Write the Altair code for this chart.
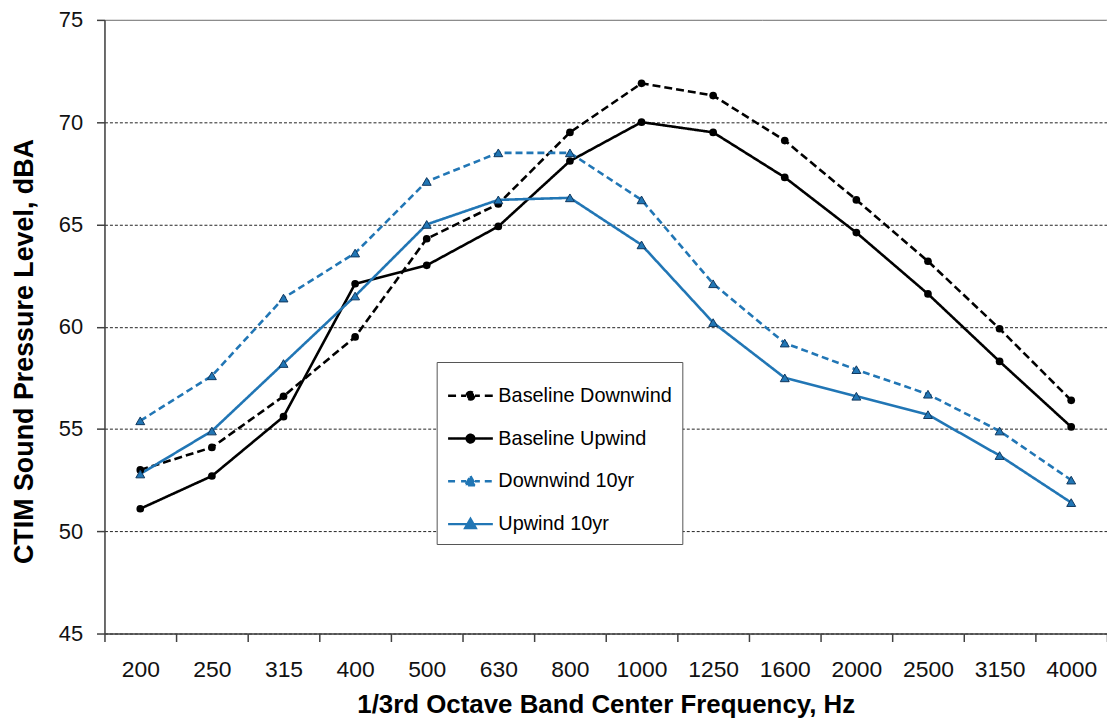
import altair as alt
import pandas as pd

# ---------------- data ----------------
freqs = ["200", "250", "315", "400", "500", "630", "800", "1000",
         "1250", "1600", "2000", "2500", "3150", "4000"]
series_names = ["Baseline Downwind", "Baseline Upwind", "Downwind 10yr", "Upwind 10yr"]
baseline_downwind = [53.0, 54.1, 56.6, 59.5, 64.3, 66.0, 69.5, 71.9, 71.3, 69.1, 66.2, 63.2, 59.9, 56.4]
baseline_upwind = [51.1, 52.7, 55.6, 62.1, 63.0, 64.9, 68.1, 70.0, 69.5, 67.3, 64.6, 61.6, 58.3, 55.1]
downwind_10yr = [55.4, 57.6, 61.4, 63.6, 67.1, 68.5, 68.5, 66.2, 62.1, 59.2, 57.9, 56.7, 54.9, 52.5]
upwind_10yr = [52.8, 54.9, 58.2, 61.5, 65.0, 66.2, 66.3, 64.0, 60.2, 57.5, 56.6, 55.7, 53.7, 51.4]
y_ticks = [45, 50, 55, 60, 65, 70, 75]

values = [baseline_downwind, baseline_upwind, downwind_10yr, upwind_10yr]
rows = []
for name, vals in zip(series_names, values):
    for f, v in zip(freqs, vals):
        rows.append({"freq": f, "series": name, "value": v})
df = pd.DataFrame(rows)

# ---------------- styles ----------------
BLACK = "#000000"
BLUE = "#2176b5"
colors = [BLACK, BLACK, BLUE, BLUE]
dashes = [[8, 4], [1, 0], [7, 4], [1, 0]]
FONT = "Liberation Sans"

circ = "M0.17,0A0.17,0.17,0,1,1,-0.17,0A0.17,0.17,0,1,1,0.17,0Z"
tri = "M0,-0.23L0.23,0.17L-0.23,0.17Z"
dash_line = "M-1,0H-0.64M-0.42,0H-0.2M0.2,0H0.42M0.64,0H1"
solid_line = "M-1,0H1"
legend_paths = [dash_line + circ, solid_line + circ, dash_line + tri, solid_line + tri]

color_scale = alt.Scale(domain=series_names, range=colors)

legend_def = alt.Legend(
    title=None, orient="none", legendX=334, legendY=344,
    fillColor="white", strokeColor="#555555", padding=10,
    labelFont=FONT, labelFontSize=20, labelColor="black", labelLimit=400,
    labelOffset=4, symbolSize=2025, symbolStrokeWidth=2.5, rowPadding=9,
)

x_enc = alt.X(
    "freq:N", sort=freqs, bandPosition=0.5,
    scale=alt.Scale(type="band", domain=freqs, paddingInner=0, paddingOuter=0),
    axis=alt.Axis(
        title="1/3rd Octave Band Center Frequency, Hz",
        titleFont=FONT, titleFontSize=26, titleFontWeight="bold", titleColor="black",
        titleY=79, titleBaseline="alphabetic",
        labelFont=FONT, labelFontSize=23, labelColor="#111111", labelAngle=0,
        labelPadding=17, tickBand="extent", tickSize=8, tickColor="#404040",
        tickWidth=1.5, domainColor="#404040", domainWidth=1.5, grid=False,
    ),
)
y_enc = alt.Y(
    "value:Q",
    scale=alt.Scale(domain=[45, 75], nice=False, zero=False),
    axis=alt.Axis(
        values=y_ticks,
        title="CTIM Sound Pressure Level, dBA",
        titleFont=FONT, titleFontSize=27, titleFontWeight="bold", titleColor="black",
        titleX=-72, titleY=333, titleAngle=-90, titleBaseline="alphabetic", titleAlign="center",
        labelFont=FONT, labelFontSize=22, labelColor="#111111", labelPadding=14,
        tickSize=8, tickColor="#404040", tickWidth=1.5,
        domainColor="#404040", domainWidth=1.5,
        grid=True,
        gridColor={"condition": {"test": "datum.value === 75", "value": "#8c8c8c"}, "value": "#222222"},
        gridDash={"condition": {"test": "datum.value === 75", "value": [1, 0]}, "value": [3, 2]},
        gridWidth={"condition": {"test": "datum.value === 75", "value": 1.5}, "value": 1},
    ),
)

base = alt.Chart(df)

legend_layer = base.mark_point(filled=True, opacity=1, size=2025, strokeWidth=2.5).encode(
    x=x_enc, y=y_enc,
    color=alt.Color("series:N", scale=color_scale, legend=legend_def),
    stroke=alt.Stroke("series:N", scale=alt.Scale(domain=series_names, range=colors), legend=legend_def),
    shape=alt.Shape("series:N", scale=alt.Scale(domain=series_names, range=legend_paths), legend=legend_def),
).transform_filter("false")

lines = base.mark_line(strokeWidth=2.6).encode(
    x=x_enc, y=y_enc,
    color=alt.Color("series:N", scale=color_scale, legend=None),
    strokeDash=alt.StrokeDash("series:N", scale=alt.Scale(domain=series_names, range=dashes), legend=None),
)

circles = base.mark_point(shape="circle", filled=True, size=60, opacity=1).encode(
    x=x_enc, y=y_enc,
    color=alt.Color("series:N", scale=color_scale, legend=None),
).transform_filter(alt.FieldOneOfPredicate(field="series", oneOf=series_names[:2]))

triangles = base.mark_point(shape="triangle-up", filled=True, size=80, opacity=1,
                            stroke="#10375e", strokeWidth=1).encode(
    x=x_enc, y=y_enc,
    color=alt.Color("series:N", scale=alt.Scale(domain=series_names, range=colors), legend=None),
).transform_filter(alt.FieldOneOfPredicate(field="series", oneOf=series_names[2:]))

chart = alt.layer(legend_layer, lines, circles, triangles).properties(
    width=1008, height=617,
    autosize=alt.AutoSizeParams(type="none"),
    padding={"left": 97, "top": 10, "right": 0, "bottom": 84},
).configure_view(stroke=None).configure(background="white")

chart.save("out.html", embed_options={"renderer": "svg", "actions": False})
